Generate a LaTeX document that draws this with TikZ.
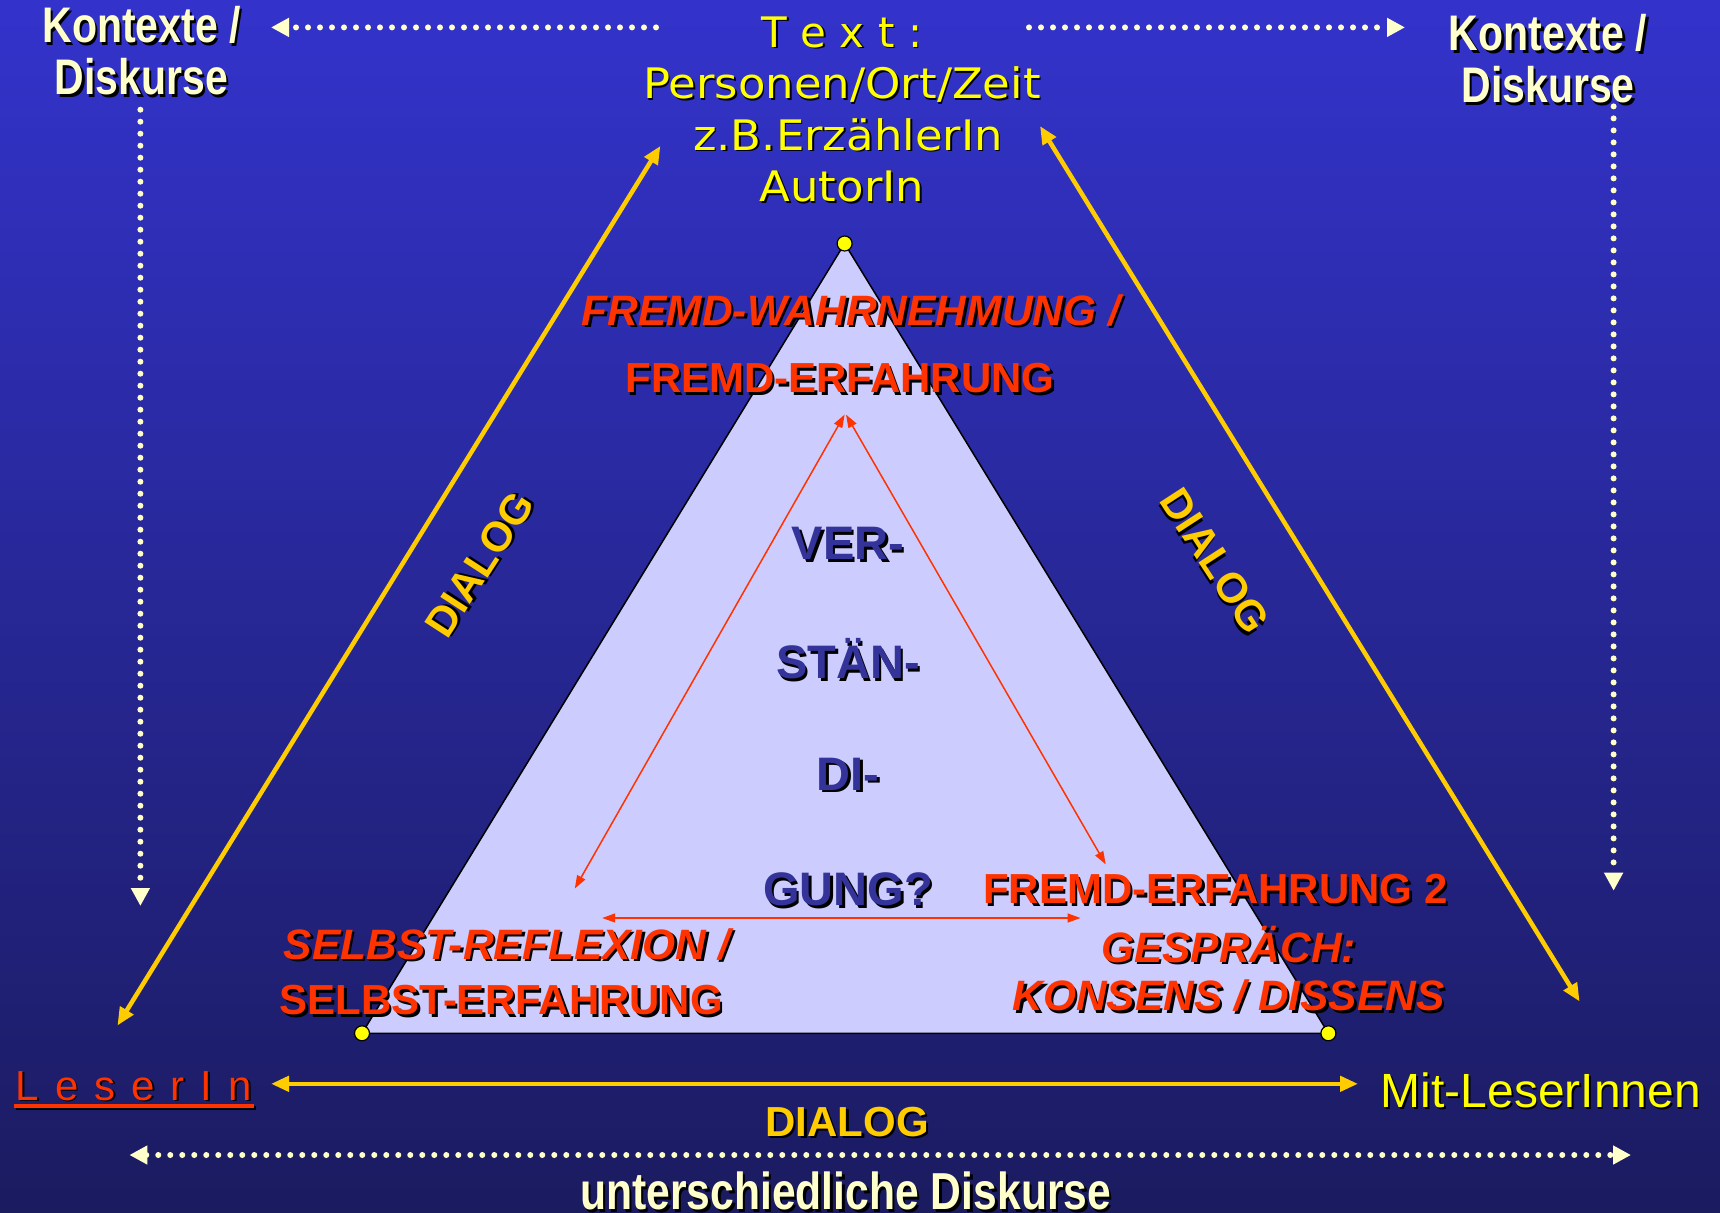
\documentclass[tikz,border=0pt]{standalone}
\usepackage{fontspec}
\setmainfont{Liberation Sans}
\newfontfamily\verd{DejaVu Sans}
\newfontfamily\verdw[FakeStretch=1.07]{DejaVu Sans}
\newfontfamily\narrowf[FakeStretch=0.82]{Liberation Sans}
\usetikzlibrary{arrows.meta}
\definecolor{bgtop}{RGB}{51,51,204}
\definecolor{bgbot}{RGB}{27,27,96}
\definecolor{gold}{RGB}{255,204,0}
\definecolor{yel}{RGB}{255,255,0}
\definecolor{cream}{RGB}{255,255,204}
\definecolor{redt}{RGB}{255,51,0}
\definecolor{bluet}{RGB}{51,51,153}
\definecolor{trifill}{RGB}{204,204,255}
\newcommand\shd[1]{\leavevmode\rlap{\hspace{2.5pt}\raisebox{-2.5pt}{\color{black}#1}}#1}
\newcommand\shs[1]{\leavevmode\rlap{\hspace{1.5pt}\raisebox{-1.5pt}{\color{black}#1}}#1}
\tikzset{
  txt/.style={inner sep=0pt, align=center},
  verdtxt/.style={txt, text=yel, font=\verd\fontsize{42}{51.5}\selectfont},
  kontxt/.style={txt, text=cream, font=\narrowf\bfseries\fontsize{50}{52}\selectfont},
  redb/.style={txt, text=redt, font=\bfseries\fontsize{42}{50}\selectfont},
  redi/.style={txt, text=redt, font=\bfseries\itshape\fontsize{42.5}{50}\selectfont},
  bluetxt/.style={txt, text=bluet, font=\bfseries\fontsize{47}{50}\selectfont},
  dialog/.style={txt, text=gold, font=\bfseries\fontsize{42}{50}\selectfont},
  goldarrow/.style={draw=gold, line width=4.5pt, {Triangle[length=18pt,width=15pt]}-{Triangle[length=18pt,width=15pt]}},
  dotline/.style={draw=cream, line width=6pt, line cap=round, dash pattern=on 0pt off 12pt},
  dottip/.style={-{Triangle[length=18pt,width=18pt,fill=cream]}},
  redarrow/.style={draw=redt, line width=1.5pt, {Triangle[length=13pt,width=9pt]}-{Triangle[length=13pt,width=9pt]}},
  vertex/.style={circle, draw=black, fill=yel, line width=1.2pt, minimum size=15pt, inner sep=0pt}
}
\begin{document}
\begin{tikzpicture}[x=1pt,y=-1pt]
\useasboundingbox (0,0) rectangle (1720,1212);
\shade[top color=bgtop,bottom color=bgbot] (0,0) rectangle (1720,1212);

% triangle
\coordinate (A) at (844.6,243.5);
\coordinate (BL) at (362,1033.3);
\coordinate (BR) at (1328.4,1033.3);
\filldraw[fill=trifill, draw=black, line width=1.5pt] (A) -- (BL) -- (BR) -- cycle;

% red arrows
\coordinate (rtop1) at (844.6,414.6);
\coordinate (rtop2) at (846.0,414.6);
\coordinate (rbl) at (574.8,888.5);
\coordinate (rbr) at (1105.7,864.4);
\coordinate (rhl) at (602.2,918);
\coordinate (rhr) at (1080.5,918);
\draw[redarrow] (rtop1) -- (rbl);
\draw[redarrow] (rtop2) -- (rbr);
\draw[redarrow] (rhl) -- (rhr);

% vertices
\node[vertex] (vA) at (A) {};
\node[vertex] (vBL) at (BL) {};
\node[vertex] (vBR) at (BR) {};

% gold arrows
\coordinate (gl1) at (660.4,145.9);
\coordinate (gl2) at (117.4,1025.6);
\coordinate (gr1) at (1040,126);
\coordinate (gr2) at (1579.6,1001.5);
\coordinate (gb1) at (271,1083.8);
\coordinate (gb2) at (1358,1083.8);
\draw[goldarrow] (gl1) -- (gl2);
\draw[goldarrow] (gr1) -- (gr2);
\draw[goldarrow] (gb1) -- (gb2);

% dotted arrows
\coordinate (dtl1) at (656,27.4);
\coordinate (dtl2) at (271,27.4);
\coordinate (dtr1) at (1029,27.4);
\coordinate (dtr2) at (1405,27.4);
\coordinate (dvl1) at (140.4,109.7);
\coordinate (dvl2) at (140.4,906);
\coordinate (dvr1) at (1613.6,106.4);
\coordinate (dvr2) at (1613.6,890.7);
\coordinate (db1) at (129.4,1155);
\coordinate (db2) at (1631,1155);
\draw[dotline, dottip] (dtl1) -- (dtl2);
\draw[dotline, dottip] (dtr1) -- (dtr2);
\draw[dotline, dottip] (dvl1) -- (dvl2);
\draw[dotline, dottip] (dvr1) -- (dvr2);
\draw[dotline, {Triangle[length=18pt,width=18pt,fill=cream]}-{Triangle[length=18pt,width=18pt,fill=cream]}] (db1) -- (db2);

% texts
\node[verdtxt] (text) at (842,110) {\shs{T e x t :}\\\verdw\shs{Personen/Ort/Zeit}\\\verdw\shs{\hspace{12pt}z.B.ErzählerIn}\\\verdw\shs{AutorIn}};
\node[kontxt] (kl) at (141.5,52) {\shd{Kontexte /}\\\shd{Diskurse}};
\node[kontxt] (kr) at (1548,60) {\shd{Kontexte /}\\\shd{Diskurse}};

\node[dialog, rotate=57] (dl) at (480.5,565) {\shd{DIALOG}};
\node[dialog, rotate=-57] (dr) at (1214,561.6) {\shd{DIALOG}};
\node[dialog] (db) at (847,1123) {\shd{DIALOG}};

\node[redi] (f1) at (851,311.5) {\shd{FREMD-WAHRNEHMUNG /}};
\node[redb] (f2) at (840,379.5) {\shd{FREMD-ERFAHRUNG}};

\node[bluetxt] (b1) at (848,545) {\shd{VER-}};
\node[bluetxt] (b2) at (848,660) {\shd{STÄN-}};
\node[bluetxt] (b3) at (848,775.5) {\shd{DI-}};
\node[bluetxt] (b4) at (848,890.7) {\shd{GUNG?}};

\node[redi] (s1) at (506.8,945.5) {\shd{SELBST-REFLEXION /}};
\node[redb] (s2) at (501.3,1001.5) {\shd{SELBST-ERFAHRUNG}};

\node[redb] (f3) at (1215.4,890.7) {\shd{FREMD-ERFAHRUNG 2}};
\node[redi] (g1) at (1228.6,945.5) {\shd{GESPRÄCH:}};
\node[redi] (g2) at (1228.6,997) {\shd{KONSENS / DISSENS}};

\node[txt, text=redt, font=\fontsize{42}{50}\selectfont] (leser) at (134,1086.7) {\shs{L\hspace{16pt}e\hspace{16pt}s\hspace{16pt}e\hspace{16pt}r\hspace{16pt}I\hspace{16pt}n}};
\draw[black, line width=4pt] (16,1108.3) -- (256,1108.3);
\draw[redt, line width=4pt] (14,1106.3) -- (254,1106.3);

\node[txt, text=yel, font=\fontsize{48}{50}\selectfont] (mit) at (1541,1091.5) {\shs{Mit-LeserInnen}};
\node[kontxt, font=\narrowf\bfseries\fontsize{52}{54}\selectfont] (ud) at (845.7,1192.4) {\shd{unterschiedliche Diskurse}};
\end{tikzpicture}
\end{document}
